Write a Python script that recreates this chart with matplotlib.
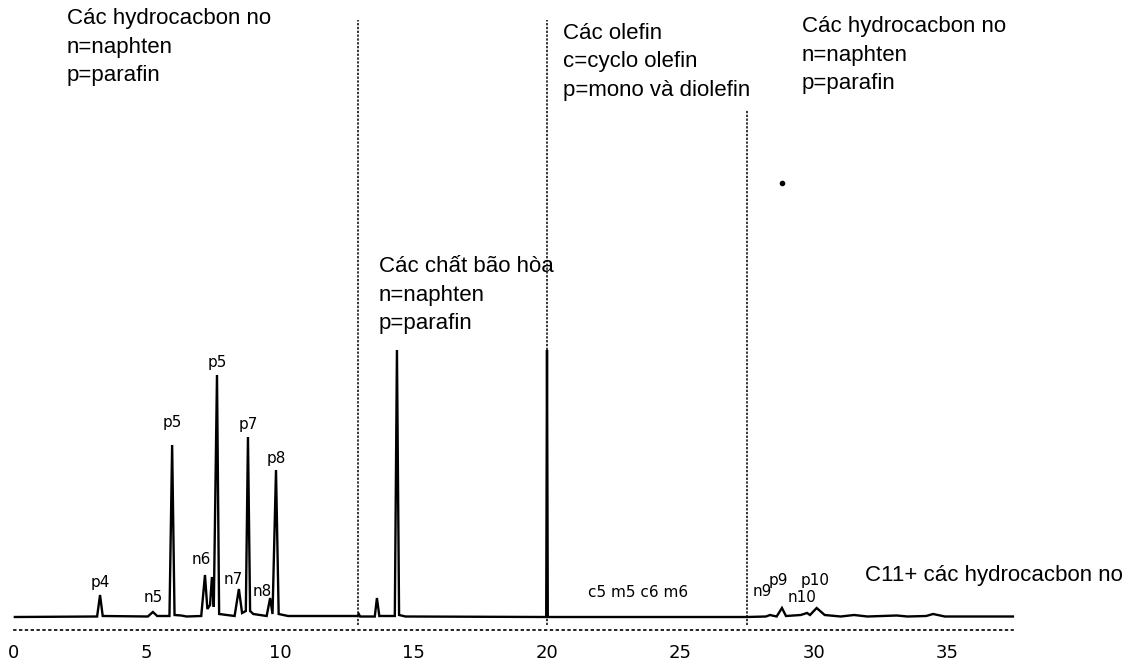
import matplotlib
matplotlib.use('Agg')
import matplotlib.pyplot as plt

# chromatogram trace (retention time in min, signal in arbitrary units)
trace_time = [0.07, 3.15, 3.26, 3.36, 5.05, 5.24, 5.40, 5.86, 5.96, 6.05, 6.30, 6.50,
              7.05, 7.19, 7.28, 7.38, 7.45, 7.52, 7.64, 7.72, 8.30, 8.46, 8.58, 8.72,
              8.80, 8.88, 9.00, 9.50, 9.63, 9.72, 9.85, 9.95, 10.3, 12.9, 12.95, 13.0,
              13.55, 13.63, 13.72, 14.30, 14.38, 14.46, 14.7, 19.97, 20.0, 20.03, 27.5,
              28.2, 28.35, 28.6, 28.8, 28.95, 29.5, 29.74, 29.85, 30.1, 30.4, 31.0,
              31.5, 32.0, 33.1, 33.5, 34.2, 34.46, 34.9, 37.45]
trace_signal = [0, 0.5, 22, 1, 0.5, 5, 1, 1, 172, 2, 1.5, 0.5,
                1, 42, 8, 12, 40, 10, 242, 3, 1, 28, 4, 6,
                180, 6, 3, 1, 19, 3, 147, 3, 1, 1, 3, 0.5,
                0.5, 19, 1, 1, 267, 2, 0.5, 0, 267, 0, 0,
                0.5, 2, 0.5, 9, 1, 2, 4, 2, 9, 2, 0.5,
                2, 0.5, 1.5, 0.5, 1, 3, 0.5, 0.5]

# peak labels
peak_names = ['p4', 'n5', 'p5', 'n6', 'p5', 'n7', 'p7', 'n8', 'p8', 'n9', 'p9', 'n10', 'p10']
peak_label_time = [3.26, 5.24, 5.96, 7.04, 7.64, 8.24, 8.80, 9.33, 9.85, 28.05, 28.65, 29.55, 30.04]
peak_label_level = [35, 20, 194, 57, 254, 37, 192, 25, 159, 26, 37, 20, 37]

# region borders (dotted lines): time, top
border_time = [12.92, 20.0, 27.49]
border_top = [597, 597, 507]

# group descriptions: left time, first line level, lines
group_time = [2.02, 13.71, 20.6, 29.55]
group_level = [593, 345, 578, 585]
group_lines = [
    ['Các hydrocacbon no', 'n=naphten', 'p=parafin'],
    ['Các chất bão hòa', 'n=naphten', 'p=parafin'],
    ['Các olefin', 'c=cyclo olefin', 'p=mono và diolefin'],
    ['Các hydrocacbon no', 'n=naphten', 'p=parafin'],
]

x_ticks = [0, 5, 10, 15, 20, 25, 30, 35]

W, H = 1145, 662
fig = plt.figure(figsize=(W / 100, H / 100), dpi=100)
ax = fig.add_axes([0, 32 / H, 1, 1 - 32 / H])
ax.set_xlim(-13 / 26.7, (W - 13) / 26.7)
ax.set_ylim(-13, 617)

# the trace
ax.plot(trace_time, trace_signal, color='black', lw=1.7, solid_joinstyle='miter')

# dotted borders between regions
for t, top in zip(border_time, border_top):
    ax.plot([t, t], [-8, top], color='black', lw=1.1, ls=(0, (1.5, 1.0)))

# stray dot on the scan
ax.plot([28.8], [434], 'o', color='black', ms=3)

# peak labels
for name, t, lvl in zip(peak_names, peak_label_time, peak_label_level):
    ax.text(t, lvl, name, ha='center', va='center', fontsize=11,
            family='DejaVu Sans', color='black')

ax.text(21.54, 20, 'c5 m5 c6 m6', ha='left', va='baseline', fontsize=11,
        family='DejaVu Sans', color='black')
ax.text(31.91, 36, 'C11+ các hydrocacbon no', ha='left', va='baseline',
        fontsize=16, family='Liberation Sans', color='black')

# group descriptions
line_step = 28.5
for t, lvl, lines in zip(group_time, group_level, group_lines):
    for i, line in enumerate(lines):
        ax.text(t, lvl - i * line_step, line, ha='left', va='baseline',
                fontsize=16, family='Liberation Sans', color='black')

# axis
for side in ['left', 'top', 'right']:
    ax.spines[side].set_visible(False)
ax.spines['bottom'].set_bounds(0.05, 37.45)
ax.spines['bottom'].set_linestyle((0, (1, 2.5)))
ax.spines['bottom'].set_linewidth(1.2)
ax.set_yticks([])
ax.set_xticks(x_ticks)
ax.set_xticklabels([str(t) for t in x_ticks])
ax.tick_params(axis='x', length=0, pad=10, labelsize=13)

fig.savefig('out.png', dpi=100)
